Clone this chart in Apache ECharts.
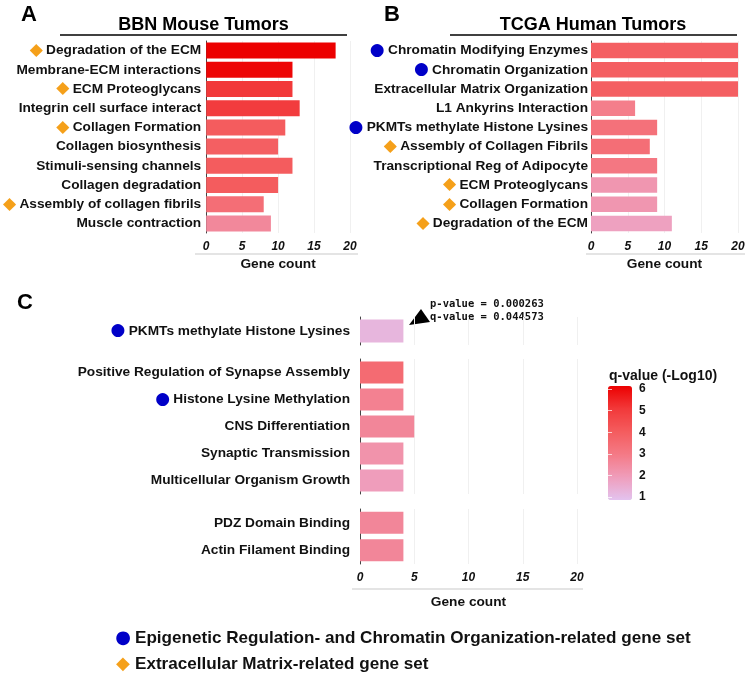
<!DOCTYPE html>
<html>
<head>
<meta charset="utf-8">
<script src="https://cdn.jsdelivr.net/npm/echarts@6/dist/echarts.min.js"></script>
<style>
  html, body { margin: 0; padding: 0; background: #fff; }
  #main { width: 750px; height: 680px; }
</style>
</head>
<body>
<div id="main"></div>
<script>
// panel A - BBN mouse tumors
var aCats = ['Degradation of the ECM', 'Membrane-ECM interactions', 'ECM Proteoglycans', 'Integrin cell surface interact',
  'Collagen Formation', 'Collagen biosynthesis', 'Stimuli-sensing channels', 'Collagen degradation',
  'Assembly of collagen fibrils', 'Muscle contraction'];
var aCount = [18, 12, 12, 13, 11, 10, 12, 10, 8, 9];
var aQ = [6, 5.9, 5, 4.9, 4, 3.9, 4, 4, 3.4, 2.6];
var aMark = ['e', '', 'e', '', 'e', '', '', '', 'e', ''];

// panel B - TCGA human tumors
var bCats = ['Chromatin Modifying Enzymes', 'Chromatin Organization', 'Extracellular Matrix Organization', 'L1 Ankyrins Interaction',
  'PKMTs methylate Histone Lysines', 'Assembly of Collagen Fibrils', 'Transcriptional Reg of Adipocyte', 'ECM Proteoglycans',
  'Collagen Formation', 'Degradation of the ECM'];
var bCount = [20, 20, 20, 6, 9, 8, 9, 9, 9, 11];
var bQ = [3.9, 3.9, 3.9, 2.9, 3.3, 3.4, 3.1, 2.2, 2.2, 1.9];
var bMark = ['p', 'p', '', '', 'p', 'e', '', 'e', 'e', 'e'];

// panel C - three facets
var c1Cats = ['PKMTs methylate Histone Lysines'];
var c1Count = [4];
var c1Q = [1.35];
var c1Mark = ['p'];
var c2Cats = ['Positive Regulation of Synapse Assembly', 'Histone Lysine Methylation', 'CNS Differentiation',
  'Synaptic Transmission', 'Multicellular Organism Growth'];
var c2Count = [4, 4, 5, 4, 4];
var c2Q = [3.5, 2.8, 2.65, 2.3, 2.0];
var c2Mark = ['', 'p', '', '', ''];
var c3Cats = ['PDZ Domain Binding', 'Actin Filament Binding'];
var c3Count = [4, 4];
var c3Q = [2.65, 2.65];
var c3Mark = ['', ''];

var countTicks = [0, 5, 10, 15, 20];
var qTicks = [1, 2, 3, 4, 5, 6];

var FONT = "'Liberation Sans', Arial, sans-serif";
var ORANGE = '#f5a01a';
var BLUE = '#0000c8';

var myChart = echarts.init(document.getElementById('main'));

function rows(cats, count, q) {
  return cats.map(function (c, i) { return [count[i], c, q[i]]; });
}

function labelFmt(cats, marks) {
  return function (value) {
    var m = marks[cats.indexOf(value)];
    if (m == 'e') return '{e|◆} {t|' + value + '}';
    if (m == 'p') return '{p|●} {t|' + value + '}';
    return '{t|' + value + '}';
  };
}

var rich = {
  t: { fontFamily: FONT, fontWeight: 'bold', fontSize: 13.7, color: '#111' },
  e: { fontFamily: 'DejaVu Sans', fontSize: 17, color: ORANGE },
  p: { fontFamily: 'DejaVu Sans', fontSize: 17, color: BLUE }
};

function xAx(grid, showLabel) {
  return {
    gridIndex: grid, type: 'value', min: 0, max: 20, interval: 5,
    axisLine: { show: false }, axisTick: { show: false },
    splitLine: { lineStyle: { color: '#f0f0f0' } },
    axisLabel: {
      show: showLabel, margin: 8, fontFamily: FONT, fontStyle: 'italic', fontWeight: 'bold', fontSize: 12, color: '#111',
      formatter: function (v) { return countTicks.indexOf(v) >= 0 ? String(v) : ''; }
    },
    name: showLabel ? 'Gene count' : '', nameLocation: 'middle', nameGap: grid < 2 ? 24 : 31,
    nameTextStyle: { fontFamily: FONT, fontWeight: 'bold', fontSize: 13.7, color: '#111' }
  };
}

function yAx(grid, cats, marks, margin) {
  return {
    gridIndex: grid, type: 'category', data: cats, inverse: true,
    axisLine: { show: true, lineStyle: { color: '#444', width: 1 } },
    axisTick: { show: false },
    axisLabel: { margin: margin, formatter: labelFmt(cats, marks), rich: rich },
    splitLine: { show: false }
  };
}

function bar(i, data, w) {
  return { type: 'bar', xAxisIndex: i, yAxisIndex: i, data: data, encode: { x: 0, y: 1 }, barWidth: w, silent: true };
}

myChart.setOption({
  animation: false,
  grid: [
    { left: 203, width: 147, top: 41, height: 192 },
    { left: 591, width: 147, top: 41, height: 192 },
    { left: 360, width: 217, top: 317, height: 28 },
    { left: 360, width: 217, top: 359, height: 135 },
    { left: 360, width: 217, top: 509, height: 55 },
    { left: 608, width: 24, top: 389, height: 108 }
  ],
  xAxis: [
    xAx(0, true), xAx(1, true), xAx(2, false), xAx(3, false), xAx(4, true),
    { gridIndex: 5, type: 'value', show: false, min: 0, max: 1 }
  ],
  yAxis: [
    yAx(0, aCats, aMark, 5), yAx(1, bCats, bMark, 3),
    yAx(2, c1Cats, c1Mark, 10), yAx(3, c2Cats, c2Mark, 10), yAx(4, c3Cats, c3Mark, 10),
    {
      gridIndex: 5, type: 'value', min: 1, max: 6, interval: 1, position: 'right', z: 10,
      axisLine: { show: false }, splitLine: { show: false },
      axisTick: { show: true, inside: true, length: 4, lineStyle: { color: 'rgba(255,255,255,0.7)' } },
      axisLabel: { margin: 7, fontFamily: FONT, fontWeight: 'bold', fontSize: 12, color: '#111' }
    },
    {
      gridIndex: 5, type: 'value', min: 1, max: 6, interval: 1, position: 'left', z: 10,
      axisLine: { show: false }, splitLine: { show: false }, axisLabel: { show: false },
      axisTick: { show: true, inside: true, length: 4, lineStyle: { color: 'rgba(255,255,255,0.7)' } }
    }
  ],
  visualMap: {
    type: 'continuous', min: 1, max: 6, dimension: 2, seriesIndex: [0, 1, 2, 3, 4],
    left: 593, top: 371, itemWidth: 24, itemHeight: 114, calculable: false, text: null, showLabel: false,
    inRange: { color: ['#e3c3ef', '#ef9dbb', '#f47a86', '#f45c5e', '#f2393a', '#ec0000'] }
  },
  series: [
    bar(0, rows(aCats, aCount, aQ), 16),
    bar(1, rows(bCats, bCount, bQ), 15.5),
    bar(2, rows(c1Cats, c1Count, c1Q), 23),
    bar(3, rows(c2Cats, c2Count, c2Q), 22),
    bar(4, rows(c3Cats, c3Count, c3Q), 22)
  ],
  graphic: [
    { type: 'text', left: 21, top: 4, style: { text: 'A', font: 'bold 22px ' + FONT, fill: '#000' } },
    { type: 'text', left: 384, top: 4, style: { text: 'B', font: 'bold 22px ' + FONT, fill: '#000' } },
    { type: 'text', left: 17, top: 292, style: { text: 'C', font: 'bold 22px ' + FONT, fill: '#000' } },
    { type: 'text', x: 203.5, y: 25, style: { text: 'BBN Mouse Tumors', font: 'bold 18px ' + FONT, fill: '#000', align: 'center', verticalAlign: 'middle' } },
    { type: 'text', x: 593, y: 25, style: { text: 'TCGA Human Tumors', font: 'bold 18px ' + FONT, fill: '#000', align: 'center', verticalAlign: 'middle' } },
    { type: 'line', shape: { x1: 60, y1: 35, x2: 347, y2: 35 }, style: { stroke: '#000', lineWidth: 1.5 } },
    { type: 'line', shape: { x1: 450, y1: 35, x2: 737, y2: 35 }, style: { stroke: '#000', lineWidth: 1.5 } },
    { type: 'line', shape: { x1: 195, y1: 254, x2: 358, y2: 254 }, style: { stroke: '#e4e4e4', lineWidth: 2 } },
    { type: 'line', shape: { x1: 586, y1: 254, x2: 745, y2: 254 }, style: { stroke: '#e4e4e4', lineWidth: 2 } },
    { type: 'line', shape: { x1: 352, y1: 589, x2: 583, y2: 589 }, style: { stroke: '#e4e4e4', lineWidth: 2 } },
    { type: 'text', x: 430, y: 304, style: { text: 'p-value = 0.000263', font: 'bold 10.5px "DejaVu Sans Mono", monospace', fill: '#111', verticalAlign: 'middle' } },
    { type: 'text', x: 430, y: 317, style: { text: 'q-value = 0.044573', font: 'bold 10.5px "DejaVu Sans Mono", monospace', fill: '#111', verticalAlign: 'middle' } },
    { type: 'polygon', shape: { points: [[409, 325], [421, 309], [430, 322]] }, style: { fill: '#000' } },
    { type: 'text', x: 609, y: 376, style: { text: 'q-value (-Log10)', font: 'bold 14px ' + FONT, fill: '#111', verticalAlign: 'middle' } },
    { type: 'text', x: 123, y: 638, style: { text: '●', font: '18px "DejaVu Sans"', fill: BLUE, align: 'center', verticalAlign: 'middle' } },
    { type: 'text', x: 135, y: 638, style: { text: 'Epigenetic Regulation- and Chromatin Organization-related gene set', font: 'bold 17.1px ' + FONT, fill: '#111', verticalAlign: 'middle' } },
    { type: 'text', x: 123, y: 664, style: { text: '◆', font: '18px "DejaVu Sans"', fill: ORANGE, align: 'center', verticalAlign: 'middle' } },
    { type: 'text', x: 135, y: 664, style: { text: 'Extracellular Matrix-related gene set', font: 'bold 17.1px ' + FONT, fill: '#111', verticalAlign: 'middle' } }
  ]
});
</script>
</body>
</html>
